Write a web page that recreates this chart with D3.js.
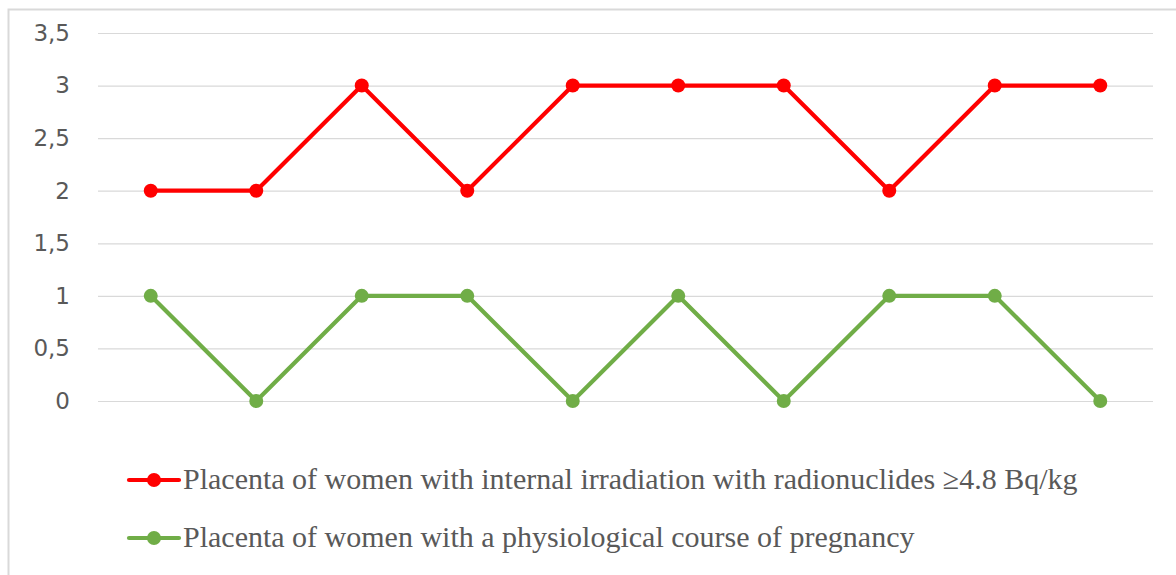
<!DOCTYPE html>
<html>
<head>
<meta charset="utf-8">
<script src="https://cdn.jsdelivr.net/npm/d3@7"></script>
<style>
  body { margin: 0; background: #fff; }
</style>
</head>
<body>
<div id="chart"></div>
<script>
var categories = ["1", "2", "3", "4", "5", "6", "7", "8", "9", "10"];
var irradiated = [2, 2, 3, 2, 3, 3, 3, 2, 3, 3];
var physiological = [1, 0, 1, 1, 0, 1, 0, 1, 1, 0];
var yTicks = [0, 0.5, 1, 1.5, 2, 2.5, 3, 3.5];
var seriesNames = [
  "Placenta of women with internal irradiation with radionuclides \u22654.8 Bq/kg",
  "Placenta of women with a physiological course of pregnancy"
];
var seriesColors = ["#ff0000", "#70ad47"];

var width = 1176, height = 575;

var svg = d3.select("#chart").append("svg")
  .attr("width", width)
  .attr("height", height);

// outer frame
svg.append("rect")
  .attr("x", 8.5).attr("y", 9.5)
  .attr("width", width + 10).attr("height", height + 10)
  .attr("fill", "none")
  .attr("stroke", "#d9d9d9")
  .attr("stroke-width", 2);

var x = d3.scalePoint()
  .domain(categories)
  .range([98, 1153])
  .padding(0.5);

var y = d3.scaleLinear()
  .domain([0, 3.5])
  .range([401, 33]);

var fmt = function(d) { return String(d).replace(".", ","); };

var yAxis = svg.append("g")
  .attr("transform", "translate(98,0)")
  .call(d3.axisLeft(y).tickValues(yTicks).tickFormat(fmt)
    .tickSize(-1055).tickPadding(28));
yAxis.attr("font-family", "DejaVu Sans").attr("font-size", 23);
yAxis.select(".domain").remove();
yAxis.selectAll(".tick line").attr("stroke", "#d9d9d9").attr("stroke-width", 1.2);
yAxis.selectAll(".tick text").attr("fill", "#595959");

var line = d3.line()
  .x(function(d, i) { return x(categories[i]); })
  .y(function(d) { return y(d); });

[irradiated, physiological].forEach(function(values, k) {
  svg.append("path")
    .datum(values)
    .attr("d", line)
    .attr("fill", "none")
    .attr("stroke", seriesColors[k])
    .attr("stroke-width", 4.2)
    .attr("stroke-linejoin", "round");
  svg.selectAll(".dot" + k)
    .data(values)
    .enter().append("circle")
    .attr("cx", function(d, i) { return x(categories[i]); })
    .attr("cy", function(d) { return y(d); })
    .attr("r", 7)
    .attr("fill", seriesColors[k]);
});

// legend
var legend = svg.append("g");
seriesNames.forEach(function(name, k) {
  var ly = 480 + k * 58;
  legend.append("line")
    .attr("x1", 129).attr("x2", 179)
    .attr("y1", ly).attr("y2", ly)
    .attr("stroke", seriesColors[k])
    .attr("stroke-width", 4.2)
    .attr("stroke-linecap", "round");
  legend.append("circle")
    .attr("cx", 154).attr("cy", ly).attr("r", 7)
    .attr("fill", seriesColors[k]);
  legend.append("text")
    .attr("x", 183).attr("y", ly + 9)
    .attr("fill", "#595959")
    .attr("font-family", "Liberation Serif")
    .attr("font-size", 30)
    .text(name);
});
</script>
</body>
</html>
